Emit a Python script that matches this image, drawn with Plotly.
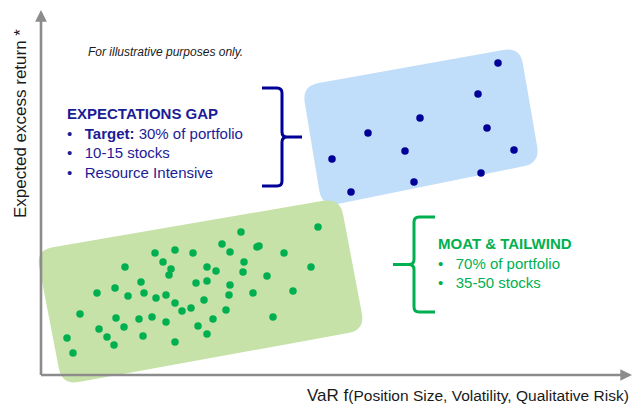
import math
import plotly.graph_objects as go

# ---------------- data (units: position along axes, origin at the axis corner) -------------
green_x = [26, 32, 39, 56, 58, 66, 73, 74, 75, 83, 84, 87, 98, 100, 102, 103, 111, 114, 115,
           122, 125, 125, 128, 130, 134, 134, 134, 141, 150, 152, 155, 157, 163, 166, 166, 166,
           172, 175, 181, 185, 188, 189, 189, 200, 202, 203, 212, 216, 218, 226, 232, 243, 252,
           270, 277]
green_y = [37, 22, 61, 82, 46, 38, 30, 87, 57, 48, 108, 79, 56, 93, 39, 82, 58, 122, 77,
           113, 80, 53, 100, 106, 125, 72, 33, 64, 67, 122, 92, 49, 75, 108, 94, 41,
           56, 104, 131, 65, 80, 123, 90, 143, 103, 113, 82, 128, 129, 99, 58, 122, 84,
           108, 148]
blue_x = [457, 437, 379, 446, 327, 364, 473, 291, 440, 373, 310]
blue_y = [312, 281, 257, 247, 242, 224, 225, 216, 202, 193, 183]

# region outlines (corner points of the rotated, rounded boxes)
blue_box = [(261, 289), (479, 328), (499, 212), (281, 168)]
green_box = [(-5, 125), (299, 177), (324, 45), (21, -10)]

FONT = "Liberation Sans, Arial, sans-serif"
DARK_BLUE = "#1c1c96"
NAVY = "#000099"
GREEN = "#00b050"
AXIS_GREY = "#8c8c8c"


def rounded_path(pts, r):
    n = len(pts)
    segs = []
    for i in range(n):
        p = pts[i]
        a = pts[i - 1]
        b = pts[(i + 1) % n]
        da = math.hypot(a[0] - p[0], a[1] - p[1])
        db = math.hypot(b[0] - p[0], b[1] - p[1])
        s = (p[0] + r * (a[0] - p[0]) / da, p[1] + r * (a[1] - p[1]) / da)
        e = (p[0] + r * (b[0] - p[0]) / db, p[1] + r * (b[1] - p[1]) / db)
        segs.append((s, p, e))
    d = f"M {segs[0][2][0]:.2f},{segs[0][2][1]:.2f}"
    for i in range(1, n + 1):
        s, p, e = segs[i % n]
        d += f" L {s[0]:.2f},{s[1]:.2f} Q {p[0]:.2f},{p[1]:.2f} {e[0]:.2f},{e[1]:.2f}"
    return d + " Z"


def brace(x_end, x_mid, x_tip, y_top, y_bot, r=5):
    y_c = (y_top + y_bot) / 2
    sgn = 1 if x_mid > x_end else -1
    t = 1 if x_tip > x_mid else -1
    return (
        f"M {x_end},{y_top} L {x_mid - sgn * r},{y_top} Q {x_mid},{y_top} {x_mid},{y_top - r} "
        f"L {x_mid},{y_c + r} Q {x_mid},{y_c} {x_mid + t * r},{y_c} L {x_tip},{y_c} "
        f"M {x_mid + t * r},{y_c} Q {x_mid},{y_c} {x_mid},{y_c - r} "
        f"L {x_mid},{y_bot + r} Q {x_mid},{y_bot} {x_mid - sgn * r},{y_bot} L {x_end},{y_bot}"
    )


fig = go.Figure()
fig.add_trace(go.Scatter(x=green_x, y=green_y, mode="markers",
                         marker=dict(color=GREEN, size=7.5), hoverinfo="skip", cliponaxis=False))
fig.add_trace(go.Scatter(x=blue_x, y=blue_y, mode="markers",
                         marker=dict(color=NAVY, size=7.5), hoverinfo="skip", cliponaxis=False))

shapes = [
    dict(type="path", path=rounded_path(blue_box, 17), fillcolor="#c0ddf9",
         line=dict(width=0), layer="below", xref="x", yref="y"),
    dict(type="path", path=rounded_path(green_box, 17), fillcolor="#c7e2a8",
         line=dict(width=0), layer="below", xref="x", yref="y"),
    dict(type="path", path=brace(221, 241, 261, 287, 189), line=dict(color=NAVY, width=3),
         xref="x", yref="y"),
    dict(type="path", path=brace(394, 373, 352, 158, 63), line=dict(color=GREEN, width=3),
         xref="x", yref="y"),
]

B = "\u2022\u00a0\u00a0\u00a0"
annotations = [
    # axes arrows
    dict(x=591, y=0, ax=-1.5, ay=0, xref="x", yref="y", axref="x", ayref="y", text="",
         showarrow=True, arrowhead=2, arrowsize=0.9, arrowwidth=2.6, arrowcolor=AXIS_GREY),
    dict(x=0, y=365, ax=0, ay=-1.5, xref="x", yref="y", axref="x", ayref="y", text="",
         showarrow=True, arrowhead=2, arrowsize=0.9, arrowwidth=2.6, arrowcolor=AXIS_GREY),
    # axis titles
    dict(x=-21, y=251, xref="x", yref="y", text="Expected excess return *", textangle=-90,
         showarrow=False, font=dict(family=FONT, size=17, color="#1a1a1a")),
    dict(x=590, y=-20, xref="x", yref="y", xanchor="right", showarrow=False,
         text="VaR f<span style='font-size:15.5px'>(Position Size, Volatility, Qualitative Risk)</span>",
         font=dict(family=FONT, size=17, color="#1a1a1a")),
    # notes
    dict(x=124, y=323, xref="x", yref="y", text="<i>For illustrative purposes only.</i>",
         showarrow=False, font=dict(family=FONT, size=12, color="#1a1a1a")),
    dict(x=24, y=232, xref="x", yref="y", xanchor="left", yanchor="middle", align="left",
         showarrow=False, font=dict(family=FONT, size=15, color=DARK_BLUE),
         text=("<b>EXPECTATIONS GAP</b><br>" + B + "<b>Target:</b> 30% of portfolio<br>"
               + B + "10-15 stocks<br>" + B + "Resource Intensive")),
    dict(x=395, y=112, xref="x", yref="y", xanchor="left", yanchor="middle", align="left",
         showarrow=False, font=dict(family=FONT, size=15, color=GREEN),
         text=("<b>MOAT &amp; TAILWIND</b><br>" + B + "70% of portfolio<br>" + B + "35-50 stocks")),
]

fig.update_layout(
    width=641, height=405,
    margin=dict(l=0, r=0, t=0, b=0),
    paper_bgcolor="white", plot_bgcolor="white",
    showlegend=False,
    xaxis=dict(range=[-41, 600], visible=False, fixedrange=True),
    yaxis=dict(range=[-30, 375], visible=False, fixedrange=True),
    shapes=shapes,
    annotations=annotations,
)

fig.write_html("out.html")
